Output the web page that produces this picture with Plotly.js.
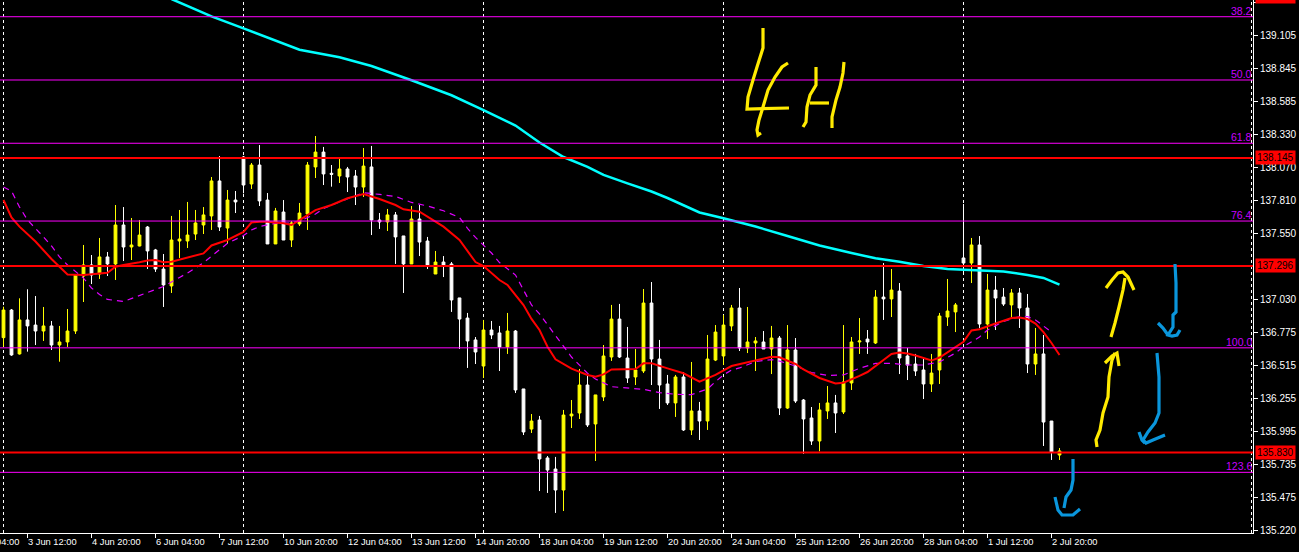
<!DOCTYPE html>
<html><head><meta charset="utf-8">
<script src="https://cdn.plot.ly/plotly-3.0.1.min.js"></script>
<style>html,body{margin:0;padding:0;background:#000;overflow:hidden}#chart{width:1299px;height:552px}</style>
</head><body><div id="chart"></div>
<script>
// ---- OHLC (4H bars), bar 0 = leftmost visible bar ----
const open  = [136.733,136.950,136.605,136.872,136.832,136.785,136.825,136.675,136.699,136.785,
137.217,137.304,137.233,137.367,137.312,137.618,137.445,137.453,137.602,137.422,
137.272,137.139,137.492,137.492,137.547,137.618,137.689,137.964,137.594,137.814,
138.152,137.940,138.089,137.814,137.469,137.720,137.500,137.626,137.704,138.074,
138.191,138.024,138.003,138.058,138.003,137.916,138.074,137.657,137.642,137.697,
137.532,137.312,137.665,137.492,137.233,137.327,137.312,137.045,136.887,136.715,
136.510,136.793,136.770,136.660,136.785,136.330,136.015,136.086,135.788,135.701,
135.536,136.118,136.141,136.361,136.055,136.267,136.581,136.879,136.573,136.424,
136.471,137.005,136.565,136.369,136.220,136.424,136.008,136.157,136.078,136.557,
136.589,136.825,136.966,136.652,136.691,136.699,136.644,136.730,136.180,136.636,
136.243,136.102,135.921,136.157,136.220,136.149,136.377,136.699,136.722,136.691,
137.052,137.037,137.099,136.589,136.526,136.479,136.369,136.479,136.895,136.935,
137.359,137.319,137.461,136.840,137.107,137.052,136.990,137.084,136.966,136.526,
136.605,136.078,135.811];
const high  = [136.976,136.958,137.042,137.113,137.060,136.974,136.864,136.825,136.958,137.225,
137.461,137.382,137.516,137.406,137.775,137.759,137.673,137.657,137.610,137.430,
137.390,137.689,137.736,137.799,137.736,137.759,137.995,138.160,137.893,137.885,
138.160,138.105,138.246,137.869,137.752,137.814,137.649,137.791,138.113,138.317,
138.231,138.089,138.136,138.074,138.050,138.223,138.239,137.712,137.744,137.720,
137.532,137.767,137.775,137.524,137.414,137.374,137.327,137.045,136.927,136.738,
136.872,136.864,136.825,136.927,136.793,136.330,136.133,136.118,135.803,135.796,
136.165,136.243,136.487,136.440,136.283,136.675,136.990,136.998,136.817,136.644,
137.115,137.170,136.715,136.440,136.440,136.463,136.542,136.228,136.754,136.832,
136.911,136.990,137.123,136.974,136.738,136.785,136.825,136.746,136.832,136.730,
136.251,136.188,136.220,136.353,136.283,136.832,136.738,136.887,136.793,137.107,
137.319,137.272,137.162,136.652,136.605,136.565,136.605,136.927,137.194,137.005,
137.783,137.516,137.531,137.233,137.217,137.123,137.115,137.123,137.076,136.809,
136.754,136.078,135.866];
const low   = [136.662,136.590,136.600,136.623,136.675,136.707,136.636,136.544,136.660,136.762,
137.013,137.154,137.194,137.217,137.186,137.335,137.343,137.450,137.272,137.249,
136.974,137.084,137.359,137.437,137.500,137.547,137.579,137.571,137.469,137.712,
137.867,137.901,137.767,137.469,137.469,137.500,137.445,137.610,137.579,137.987,
137.932,137.919,137.948,137.877,137.775,137.838,137.539,137.587,137.571,137.312,
137.084,137.312,137.374,137.272,137.233,137.209,136.935,136.644,136.495,136.526,
136.416,136.722,136.471,136.605,136.298,135.968,135.984,135.528,135.513,135.356,
135.371,136.023,136.094,136.031,135.764,136.235,136.550,136.573,136.377,136.361,
136.455,136.361,136.173,136.204,136.110,136.000,135.968,135.929,136.008,136.549,
136.518,136.785,136.628,136.612,136.471,136.644,136.447,136.125,136.173,136.220,
135.820,135.890,135.840,136.094,135.984,136.133,136.322,136.605,136.605,136.683,
136.872,136.895,136.447,136.400,136.432,136.251,136.306,136.369,136.825,136.777,
137.230,137.162,136.809,136.722,136.793,136.982,136.895,136.809,136.455,136.440,
135.882,135.772,135.772];
const close = [136.950,136.597,136.872,136.825,136.785,136.825,136.675,136.699,136.785,137.225,
137.304,137.225,137.367,137.312,137.618,137.445,137.461,137.539,137.414,137.272,
137.147,137.500,137.508,137.539,137.634,137.697,137.964,137.602,137.814,137.799,
137.932,138.089,137.807,137.469,137.728,137.500,137.634,137.712,138.089,138.191,
138.019,138.016,138.058,137.995,137.916,138.081,137.657,137.642,137.697,137.524,
137.312,137.665,137.484,137.304,137.327,137.304,137.029,136.879,136.707,136.620,
136.793,136.754,136.660,136.785,136.322,135.992,136.078,135.780,135.693,135.536,
136.125,136.133,136.361,136.047,136.283,136.589,136.879,136.581,136.416,136.479,
137.005,136.565,136.361,136.220,136.424,136.008,136.157,136.078,136.565,136.777,
136.832,136.966,136.652,136.699,136.707,136.644,136.730,136.180,136.636,136.235,
136.094,135.921,136.165,136.220,136.141,136.385,136.699,136.707,136.699,137.052,
137.037,137.107,136.573,136.518,136.471,136.369,136.455,136.903,136.942,136.990,
137.319,137.461,136.840,137.107,137.044,136.997,137.084,136.966,136.526,136.605,
136.070,135.835,135.843];
const bars = open.map((_, k) => k);

// ---- moving averages (bar index, price) ----
const redMABar = [0,1,2,4,6,8,10,13,14,15,17,18,19,20,21,23,25,26,28,30,31,32,33,35,36,38,39,41,43,45,47,49,50,52,54,55,57,59,60,62,63,65,66,67,68,69,71,73,74,75,76,79,80,81,83,85,87,89,91,94,96,97,99,100,102,104,105,107,108,110,111,112,113,114,116,117,119,120,121,122,124,126,127,128,129,130,131,132];
const redMAVal = [137.814,137.678,137.605,137.488,137.351,137.229,137.225,137.243,137.290,137.304,137.325,137.339,137.343,137.325,137.330,137.364,137.395,137.457,137.500,137.563,137.637,137.644,137.644,137.631,137.618,137.696,137.735,137.775,137.828,137.861,137.822,137.775,137.741,137.722,137.644,137.605,137.500,137.327,137.296,137.186,137.147,136.989,136.880,136.793,136.662,136.563,136.489,136.440,136.426,136.444,136.483,136.487,136.531,136.531,136.492,136.453,136.387,136.440,136.510,136.552,136.583,136.579,136.526,136.483,136.416,136.373,136.379,136.432,136.463,136.557,136.605,136.616,136.608,136.593,136.553,136.577,136.662,136.701,136.789,136.799,136.844,136.887,136.891,136.879,136.844,136.777,136.691,136.597];

const magMABar = [0,1,2,3,5,6,7,8,10,11,12,13,15,16,17,19,20,22,23,25,26,28,30,31,32,34,36,37,39,40,42,44,45,47,49,51,53,55,57,58,59,61,62,64,65,66,67,68,69,70,71,73,74,76,78,80,82,84,86,88,89,90,91,92,94,96,97,99,101,103,105,107,109,111,113,115,117,119,120,122,123,125,127,128,129,130,131];
const magMAVal = [137.916,137.885,137.759,137.657,137.524,137.453,137.367,137.304,137.201,137.123,137.072,137.033,137.017,137.040,137.068,137.113,137.135,137.206,137.241,137.322,137.374,137.474,137.535,137.579,137.606,137.631,137.634,137.649,137.704,137.748,137.799,137.850,137.872,137.858,137.842,137.795,137.767,137.730,137.677,137.592,137.520,137.398,137.323,137.225,137.103,136.990,136.919,136.832,136.750,136.662,136.581,136.453,136.408,136.348,136.335,136.327,136.301,136.288,136.285,136.330,136.387,136.440,136.479,136.495,136.545,136.561,136.549,136.510,136.459,136.436,136.440,136.492,136.531,136.531,136.518,136.518,136.542,136.612,136.662,136.738,136.793,136.860,136.899,136.899,136.872,136.824,136.777];

const cyanMABar = [21,26,30,33,37,42,46,51,56,60,64,67,70,73,75,78,81,83,87,90,94,98,102,106,109,112,115,118,121,125,128,130,132];
const cyanMAVal = [139.393,139.257,139.163,139.092,138.995,138.935,138.867,138.755,138.637,138.521,138.399,138.266,138.152,138.074,138.011,137.945,137.881,137.830,137.716,137.671,137.606,137.532,137.457,137.398,137.356,137.330,137.296,137.272,137.264,137.253,137.225,137.202,137.150];

// ---- levels ----
const redLevels = [138.145, 137.296, 135.830];
const fibNames  = ["38.2","50.0","61.8","76.4","100.0","123.6"];
const fibLevels = [139.254, 138.757, 138.260, 137.649, 136.653, 135.675];

// ---- axes ----
const priceTicks = [139.365,139.105,138.845,138.585,138.330,138.070,137.810,137.550,137.030,136.775,136.515,136.255,135.995,135.735,135.475,135.220];
const timeTickBars = [3,11,19,27,35,43,51,59,67,75,83,91,99,107,115,123,131];
const timeTickText = ["3 Jun 12:00","4 Jun 20:00","6 Jun 04:00","7 Jun 12:00","10 Jun 20:00","12 Jun 04:00","13 Jun 12:00","14 Jun 20:00","18 Jun 04:00","19 Jun 12:00","20 Jun 20:00","24 Jun 04:00","25 Jun 12:00","26 Jun 20:00","28 Jun 04:00","1 Jul 12:00","2 Jul 20:00"];
const gridBars = [0,30,60,90,120,156];

// ---- handwriting (pixel strokes on the screenshot) ----
const PW = 1253, PH = 533;
const yellowStrokes = [
 [[763,28],[763,48],[757,67],[753,80],[748,97],[747,109],[789,108]],
 [[788,63],[782,67],[775,77],[768,90],[763,107],[759,120],[757,130],[758,135],[761,133]],
 [[816,67],[816,85],[810,95],[807,107],[806,122],[803,127]],
 [[810,103],[829,103]],
 [[844,62],[843,73],[840,87],[836,100],[832,117],[832,128]],
 [[1111,337],[1115,323],[1119,307],[1123,290],[1125,278]],
 [[1106,288],[1112,280],[1118,273],[1123,272],[1128,277],[1134,290]],
 [[1097,447],[1096,440],[1100,430],[1103,413],[1108,397],[1109,377],[1112,360],[1115,353]],
 [[1105,363],[1112,356],[1117,353],[1119,366]]
];
const blueStrokes = [
 [[1175,264],[1176,283],[1176,312],[1173,315],[1173,327],[1168,335],[1172,336],[1177,335],[1180,330]],
 [[1158,323],[1163,328],[1168,335]],
 [[1157,353],[1159,377],[1159,413],[1155,423],[1148,432],[1143,440],[1146,443],[1153,440],[1165,435]],
 [[1139,432],[1142,440],[1145,443]],
 [[1073,459],[1073,480],[1071,490],[1066,497],[1064,508]],
 [[1055,497],[1058,510],[1062,515],[1073,515],[1080,509]]
];
function strokePath(pts){
  return pts.map((p,k)=>(k?'L':'M')+(p[0]/PW).toFixed(5)+','+(1-p[1]/PH).toFixed(5)).join(' ');
}

const FONT = '"Liberation Sans", Arial, sans-serif';

const traces = [
 {type:'candlestick', x:bars, open:open, high:high, low:low, close:close,
  increasing:{line:{color:'#FFFF00',width:1}, fillcolor:'#FFFF00'},
  decreasing:{line:{color:'#FFFFFF',width:1}, fillcolor:'#FFFFFF'},
  whiskerwidth:0, hoverinfo:'skip', showlegend:false},
 {type:'scatter', mode:'lines', x:magMABar, y:magMAVal, line:{color:'#E000FF',width:1.2,dash:'6px,5px'}, hoverinfo:'skip', showlegend:false},
 {type:'scatter', mode:'lines', x:redMABar, y:redMAVal, line:{color:'#FF0000',width:2}, hoverinfo:'skip', showlegend:false},
 {type:'scatter', mode:'lines', x:cyanMABar, y:cyanMAVal, line:{color:'#00FFFF',width:2.5}, hoverinfo:'skip', showlegend:false}
];

const shapes = [];
gridBars.forEach(g => shapes.push({type:'line', xref:'x', yref:'paper', x0:g, x1:g, y0:0, y1:1, layer:'below', line:{color:'#FFFFFF', width:1, dash:'3px,3px'}}));
fibLevels.forEach(v => shapes.push({type:'line', xref:'paper', yref:'y', x0:0, x1:1, y0:v, y1:v, layer:'above', line:{color:'#FF00FF', width:1}}));
redLevels.forEach(v => shapes.push({type:'line', xref:'paper', yref:'y', x0:0, x1:1, y0:v, y1:v, layer:'above', line:{color:'#FF0000', width:2}}));
yellowStrokes.forEach(s => shapes.push({type:'path', xref:'paper', yref:'paper', path:strokePath(s), layer:'above', line:{color:'#FFEA00', width:3.2}}));
blueStrokes.forEach(s => shapes.push({type:'path', xref:'paper', yref:'paper', path:strokePath(s), layer:'above', line:{color:'#0A96DC', width:3.2}}));

const annotations = [];
timeTickBars.forEach((b,k) => annotations.push({xref:'x', yref:'paper', x:b, y:0, xanchor:'left', yanchor:'top', xshift:-2, yshift:-2, showarrow:false, text:timeTickText[k], font:{family:FONT, size:9.3, color:'#FFFFFF'}}));
annotations.push({xref:'paper', yref:'paper', x:-37/PW, y:0, xanchor:'left', yanchor:'top', xshift:-2, yshift:-2, showarrow:false, text:'31 May 04:00', font:{family:FONT, size:9.3, color:'#FFFFFF'}});
fibLevels.forEach((v,k) => annotations.push({xref:'paper', yref:'y', x:1, y:v, xanchor:'right', yanchor:'bottom', yshift:-2, xshift:1, showarrow:false, text:fibNames[k], font:{family:FONT, size:10.5, color:'#C800FF'}}));
redLevels.forEach(v => annotations.push({xref:'paper', yref:'y', x:1, y:v, xanchor:'left', yanchor:'middle', xshift:2, showarrow:false, text:v.toFixed(3), bgcolor:'#FF0000', borderpad:1, font:{family:FONT, size:10, color:'#000000'}}));
annotations.push({xref:'paper', yref:'paper', x:1, y:1, xanchor:'left', yanchor:'middle', xshift:2, yshift:4, showarrow:false, text:'139.400', bgcolor:'#FF0000', borderpad:1, font:{family:FONT, size:10, color:'#000000'}});

const layout = {
  width:1299, height:552,
  margin:{l:0, r:46, t:0, b:19, pad:0},
  paper_bgcolor:'#000000', plot_bgcolor:'#000000',
  showlegend:false, hovermode:false,
  boxgap:0.5,
  xaxis:{type:'linear', range:[-0.4375, 156.1875], showgrid:false, zeroline:false,
         showline:true, linecolor:'#FFFFFF', linewidth:1,
         ticks:'outside', ticklen:4, tickcolor:'#FFFFFF', tickvals:timeTickBars,
         showticklabels:false, rangeslider:{visible:false}, fixedrange:true},
  yaxis:{side:'right', range:[135.1984, 139.3854], showgrid:false, zeroline:false,
         showline:true, linecolor:'#FFFFFF', linewidth:1,
         ticks:'outside', ticklen:4, tickcolor:'#FFFFFF',
         tickvals:priceTicks, ticktext:priceTicks.map(v=>v.toFixed(3)),
         tickfont:{family:FONT, size:10, color:'#FFFFFF'}, fixedrange:true},
  shapes:shapes, annotations:annotations
};

Plotly.newPlot('chart', traces, layout, {staticPlot:true, displayModeBar:false});
</script>
</body></html>
